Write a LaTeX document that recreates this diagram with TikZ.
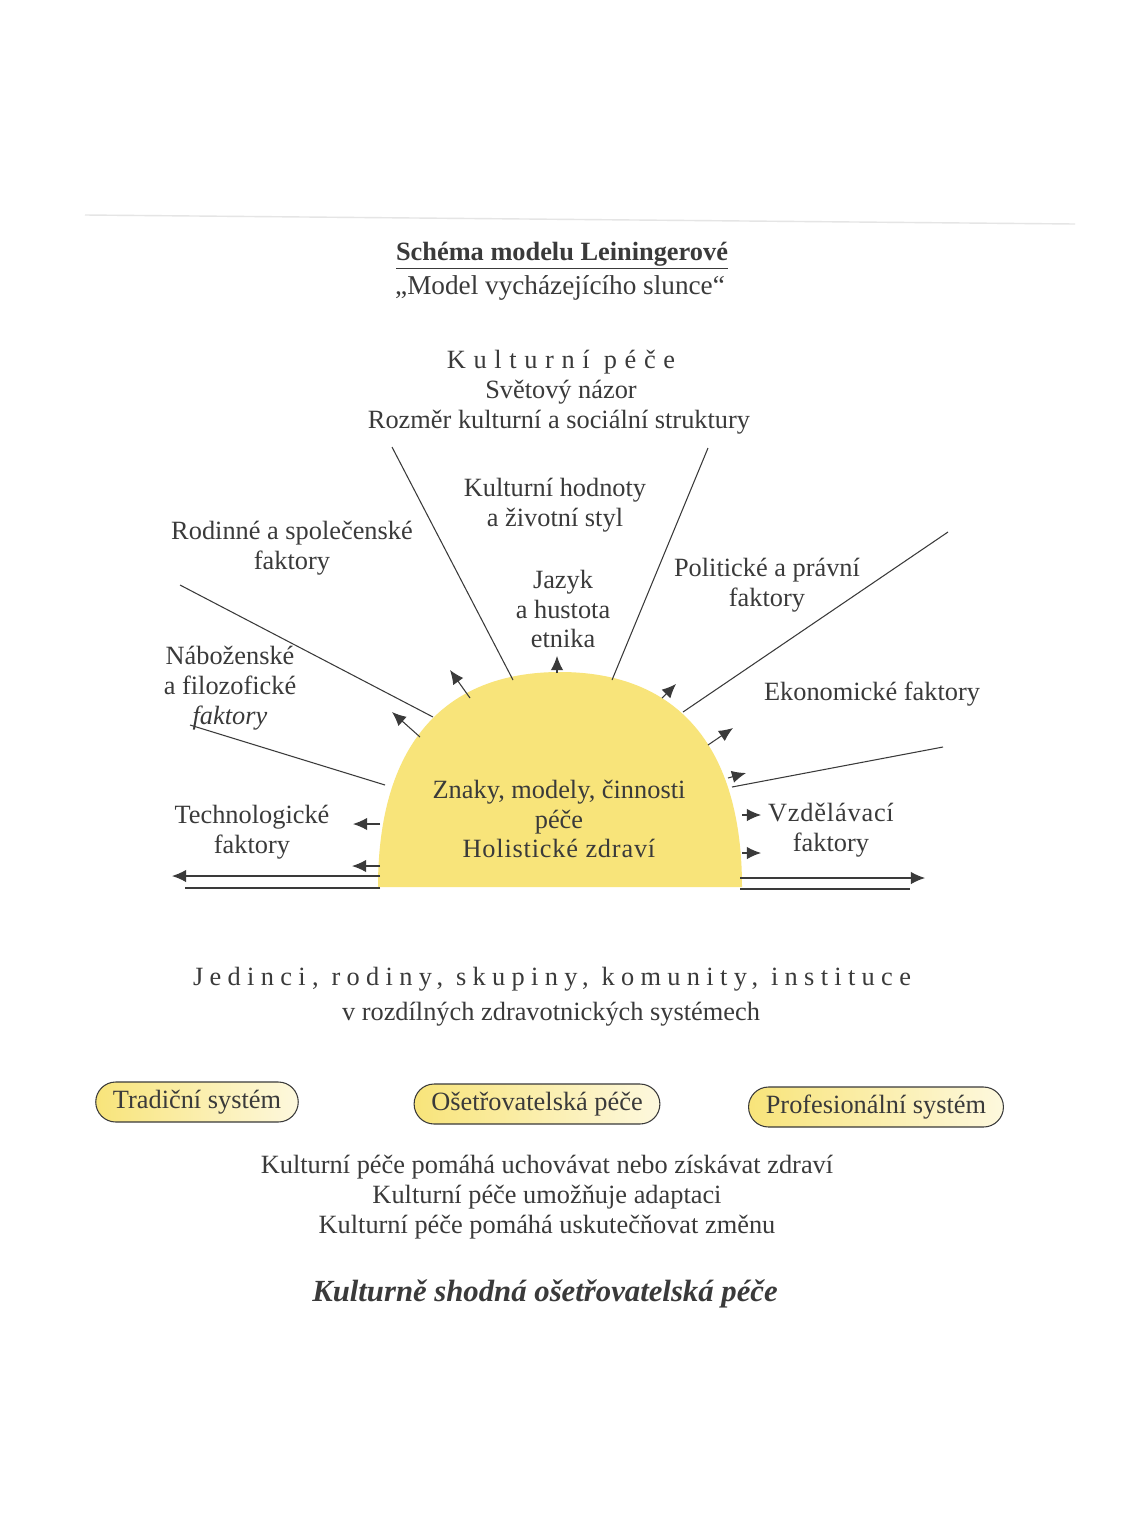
\documentclass[tikz,border=0pt]{standalone}
\usepackage{fontspec}
\setmainfont{Liberation Serif}
\newfontfamily\spacedfont[LetterSpace=29]{Liberation Serif}
\newfontfamily\widefont[LetterSpace=24]{Liberation Serif}
\newfontfamily\lightspaced[LetterSpace=3]{Liberation Serif}
\usetikzlibrary{arrows.meta,shapes.misc}
\definecolor{sunyellow}{RGB}{248,228,122}
\definecolor{inkgray}{RGB}{58,58,58}

\tikzset{
  txt/.style={align=center, text=inkgray, font=\fontsize{15}{17}\selectfont},
  ray/.style={draw=inkgray, line width=0.6pt},
  beam/.style={draw=inkgray, line width=0.6pt, -{Latex[length=8pt,width=7pt]}},
  pill/.style={rounded rectangle, draw=inkgray, line width=0.6pt,
    left color=sunyellow, right color=sunyellow!25, minimum height=0.8cm,
    inner xsep=7.5pt, text=inkgray, font=\fontsize{15}{17}\selectfont}
}

\begin{document}
\begin{tikzpicture}[x=0.02cm, y=-0.02cm]
    \useasboundingbox[fill=white] (0,0) rectangle (1120,1515);
    \draw[gray!20, line width=0.8pt] (85,215) -- (1075,224);

    % title
    \node[txt, font=\fontsize{15}{17}\selectfont\bfseries] (title) at (562,256) {\underline{Schéma modelu Leiningerové}};
    \node[txt, font=\fontsize{15.5}{17}\selectfont] (subtitle) at (560,288) {„Model vycházejícího slunce“};

    % the sun
    \fill[sunyellow] (378,887) .. controls (378,747) and (442,672) .. (560,672)
        .. controls (678,672) and (742,747) .. (742,887) -- cycle;
    \node[txt] (core) at (559,819) {Znaky, modely, činnosti\\péče\\{\lightspaced Holistické zdraví}};

    % long rays
    \foreach \xa/\ya/\xb/\yb in {392/447/513/680, 708/448/612/680, 180/585/433/717,
        190/725/385/785, 948/532/683/712, 943/747/732/787}
    \draw[ray] (\xa,\ya) -- (\xb,\yb);

    % short arrows
    \foreach \xa/\ya/\xb/\yb in {380/824/353/824, 380/866/352/866, 420/737/392/712,
        470/698/450/670, 557/673/557/656, 662/698/676/684, 708/745/733/728,
        728/778/746/773, 742/815/761/815, 742/853/761/853}
    \draw[beam] (\xa,\ya) -- (\xb,\yb);

    % horizon
    \draw[beam] (380,876) -- (172,876);
    \draw[ray] (380,888) -- (185,888);
    \draw[beam] (740,878) -- (925,878);
    \draw[ray] (740,889) -- (910,889);

    % factors
    \node[txt] (care) at (561,362) {\spacedfont Kulturní péče};
    \node[txt] (worldview) at (561,392) {Světový názor};
    \node[txt] (dimension) at (559,422) {Rozměr kulturní a sociální struktury};
    \node[txt] (values) at (555,505) {Kulturní hodnoty\\a životní styl};
    \node[txt] (family) at (292,548) {Rodinné a společenské\\faktory};
    \node[txt] (language) at (563,609) {Jazyk\\a hustota\\etnika};
    \node[txt] (politics) at (767,585) {Politické a právní\\faktory};
    \node[txt] (religion) at (230,688) {Náboženské\\a filozofické\\\textit{faktory}};
    \node[txt] (economy) at (872,694) {Ekonomické faktory};
    \node[txt] (technology) at (252,832) {Technologické\\faktory};
    \node[txt] (education) at (831,830) {{\lightspaced Vzdělávací}\\faktory};

    % people and systems
    \node[txt] (people) at (552,979) {\widefont Jedinci, rodiny, skupiny, komunity, instituce};
    \node[txt] (systems) at (551,1014) {v rozdílných zdravotnických systémech};

    \node[pill] (folk) at (197,1102) {Tradiční systém};
    \node[pill] (nursing) at (537,1104) {Ošetřovatelská péče};
    \node[pill] (professional) at (876,1107) {Profesionální systém};

    \node[txt] (outcomes) at (547,1197) {Kulturní péče pomáhá uchovávat nebo získávat zdraví\\
        Kulturní péče umožňuje adaptaci\\Kulturní péče pomáhá uskutečňovat změnu};
    \node[txt, font=\fontsize{17.5}{20}\selectfont\bfseries\itshape] (congruent) at (545,1294) {Kulturně shodná ošetřovatelská péče};
\end{tikzpicture}
\end{document}
